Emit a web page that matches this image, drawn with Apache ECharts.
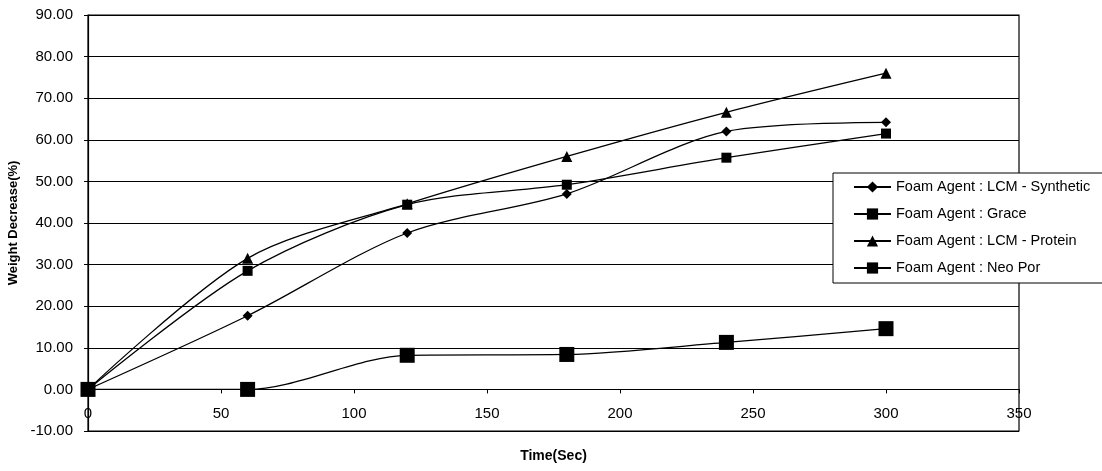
<!DOCTYPE html>
<html><head><meta charset="utf-8">
<script src="https://cdn.jsdelivr.net/npm/echarts@6/dist/echarts.min.js"></script>
<style>html,body{margin:0;padding:0;background:#fff}#c{width:1102px;height:471px}</style>
</head><body><div id="c"></div>
<script>
const times = [0, 60, 120, 180, 240, 300];
const synthetic = [0, 17.7, 37.6, 47.0, 62.0, 64.2];
const grace = [0, 28.5, 44.4, 49.2, 55.7, 61.5];
const protein = [0, 31.5, 44.6, 56.0, 66.6, 76.0];
const neoPor = [0, 0, 8.2, 8.4, 11.3, 14.6];
const seriesNames = ['Foam Agent : LCM - Synthetic', 'Foam Agent : Grace', 'Foam Agent : LCM - Protein', 'Foam Agent : Neo Por'];

const pair = arr => times.map((t, i) => [t, arr[i]]);
const font = 'Arial, "Liberation Sans", sans-serif';
const mk = (name, data, symbol, size) => ({
  name, type: 'line', data: pair(data), smooth: 0.3,
  symbol, symbolSize: size,
  lineStyle: { color: '#000', width: 1.3 },
  itemStyle: { color: '#000' },
  emphasis: { disabled: true }
});

const chart = echarts.init(document.getElementById('c'), null, { renderer: 'canvas' });
chart.setOption({
  animation: false,
  backgroundColor: '#fff',
  grid: { left: 88, right: 83, top: 15, bottom: 40, outerBoundsMode: 'none', containLabel: false, show: true, borderColor: '#000', borderWidth: 1.2, backgroundColor: 'transparent' },
  xAxis: {
    type: 'value', min: 0, max: 350, interval: 50,
    name: 'Time(Sec)', nameLocation: 'middle', nameGap: 18,
    nameTextStyle: { fontFamily: font, fontWeight: 'bold', fontSize: 14, color: '#000' },
    axisLine: { onZero: true, lineStyle: { color: '#000', width: 1.2 } },
    axisTick: { show: true, inside: false, length: 4, lineStyle: { color: '#000' } },
    axisLabel: { fontFamily: font, fontSize: 15, color: '#000', margin: -25 },
    splitLine: { show: false }
  },
  yAxis: {
    type: 'value', min: -10, max: 90, interval: 10,
    name: 'Weight Decrease(%)', nameLocation: 'middle', nameGap: 66, nameRotate: 90,
    nameTextStyle: { fontFamily: font, fontWeight: 'bold', fontSize: 13, color: '#000' },
    axisLine: { show: true, lineStyle: { color: '#000', width: 1.2 } },
    axisTick: { show: true, length: 4, lineStyle: { color: '#000' } },
    axisLabel: { fontFamily: font, fontSize: 15, color: '#000', margin: 15, formatter: v => v.toFixed(2) },
    splitLine: { show: true, lineStyle: { color: '#000', width: 1.2 } }
  },
  legend: {
    orient: 'vertical', left: 833, top: 173,
    itemGap: 11, itemWidth: 37, itemHeight: 14,
    padding: [6, 30, 7, 20],
    backgroundColor: '#fff', borderColor: '#000', borderWidth: 1,
    textStyle: { fontFamily: font, fontSize: 14.5, lineHeight: 16, color: '#000' },
    data: seriesNames
  },
  series: [
    mk(seriesNames[0], synthetic, 'diamond', 10),
    mk(seriesNames[1], grace, 'rect', 10),
    mk(seriesNames[2], protein, 'triangle', 11),
    mk(seriesNames[3], neoPor, 'rect', 15)
  ]
});
</script></body></html>
